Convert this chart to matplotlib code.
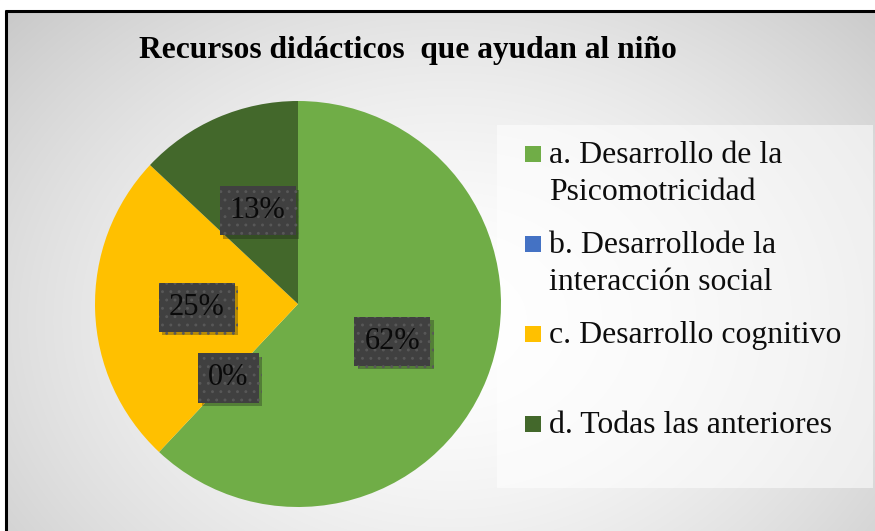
import numpy as np
import matplotlib
matplotlib.use("Agg")
import matplotlib.pyplot as plt
from matplotlib.patches import Rectangle
import matplotlib.patheffects as pe

# ---- data ----
title = "Recursos didácticos  que ayudan al niño"
categories = ["a. Desarrollo de la\nPsicomotricidad",
              "b. Desarrollode la\ninteracción social",
              "c. Desarrollo cognitivo",
              "d. Todas las anteriores"]
percentages = [62, 0, 25, 13]
colors = ["#70AD47", "#4472C4", "#FFC000", "#43682B"]

W, H = 875, 531
plt.rcParams['hatch.linewidth'] = 0.9
fig = plt.figure(figsize=(W / 100, H / 100), dpi=100)

# background axes in pixel coordinates
bg = fig.add_axes([0, 0, 1, 1])
bg.set_xlim(0, W)
bg.set_ylim(H, 0)
bg.axis('off')
yy, xx = np.mgrid[0:H, 0:W]
d = np.hypot(xx - 450, (yy - 320) * 1.3)
v = 1 - 0.22 * np.clip(d / 613, 0, 1.1) ** 1.6
img = np.dstack([v, v, v])
bg.imshow(img, extent=[0, W, H, 0], zorder=0, aspect='auto', interpolation='bilinear')
bg.add_patch(Rectangle((0, 0), W, 10, color='white', zorder=1))
bg.add_patch(Rectangle((0, 0), 5, H, color='white', zorder=1))
bg.plot([5, W], [10.5, 10.5], color='black', lw=2.2, zorder=2, solid_capstyle='butt')
bg.plot([5.5, 5.5], [10, H], color='black', lw=2.2, zorder=2, solid_capstyle='butt')

# title
bg.text(408, 58, title, ha='center', va='baseline', fontsize=22.7,
        fontweight='bold', family='Liberation Serif', color='black', zorder=3)

# legend box
bg.add_patch(Rectangle((497, 125), 376, 363, facecolor='white', alpha=0.55,
                       edgecolor='none', zorder=1))
legend_baselines = [163, 253, 343, 433]
line_step = 36.5
for lab, col, yb in zip(categories, colors, legend_baselines):
    bg.add_patch(Rectangle((525, yb - 17), 16, 16, facecolor=col, edgecolor='none', zorder=3))
    for i, line in enumerate(lab.split("\n")):
        bg.text(549, yb + i * line_step, line, ha='left', va='baseline', fontsize=22.9,
                family='Liberation Serif', color='#0d0d0d', zorder=3)

# pie
ax = fig.add_axes([95 / W, (H - 507) / H, 406 / W, 406 / H])
wedges, texts, autotexts = ax.pie(
    percentages, colors=colors, startangle=90, counterclock=False,
    autopct=lambda p: f"{p:.0f}%", pctdistance=0.5,
    wedgeprops=dict(linewidth=0),
    textprops=dict(fontsize=22, family='Liberation Serif', color='#0a0a0a'))
ax.set_xlim(-1, 1)
ax.set_ylim(-1, 1)
ax.set_aspect('equal')
for t in autotexts:
    t.set_ha('center')
    t.set_va('center')
    t.set_bbox(dict(boxstyle='square,pad=0.33', facecolor='#404040',
                    edgecolor='#585858', linewidth=0, hatch='..'))
    t.get_bbox_patch().set_path_effects([
        pe.SimplePatchShadow(offset=(2.5, -2.5), alpha=0.3), pe.Normal()])

fig.savefig("out.png", dpi=100)
